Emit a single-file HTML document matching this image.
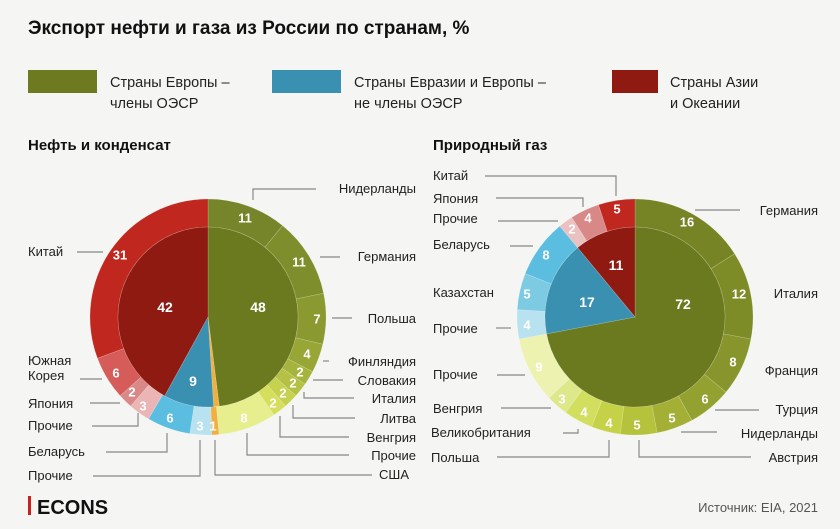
<!DOCTYPE html>
<html><head><meta charset="utf-8"><style>
html,body{margin:0;padding:0;background:#f5f5f3;}
svg{display:block;font-family:"Liberation Sans","DejaVu Sans",sans-serif;}
.l{font-size:13px;fill:#222;}
.v{font-size:13px;fill:#fff;font-weight:bold;text-anchor:middle;dominant-baseline:central;}
.b{font-size:14px;}
.ln{stroke:#888;stroke-width:1.2;fill:none;}
</style></head><body>
<svg id="s" width="840" height="529" viewBox="0 0 840 529">
<rect width="840" height="529" fill="#f5f5f3"/>
<text x="28" y="34" font-size="19" font-weight="bold" fill="#111">Экспорт нефти и газа из России по странам, %</text>
<rect x="28" y="70" width="69" height="23" fill="#6e7a1f"/>
<rect x="272" y="70" width="69" height="23" fill="#3a90b0"/>
<rect x="612" y="70" width="46" height="23" fill="#8e1a12"/>
<g font-size="14.5" fill="#222">
<text x="110" y="87">Страны Европы –</text><text x="110" y="108">члены ОЭСР</text>
<text x="354" y="87">Страны Евразии и Европы –</text><text x="354" y="108">не члены ОЭСР</text>
<text x="670" y="87">Страны Азии</text><text x="670" y="108">и Океании</text>
</g>
<text x="28" y="150" font-size="15" font-weight="bold" fill="#111">Нефть и конденсат</text>
<text x="433" y="150" font-size="15" font-weight="bold" fill="#111">Природный газ</text>
<g id="pies"></g>
<g class="ln">
<polyline points="253,200 253,189 316,189"/>
<line x1="320" y1="257" x2="340" y2="257"/>
<line x1="332" y1="318" x2="352" y2="318"/>
<line x1="323" y1="361" x2="329" y2="361"/>
<line x1="313" y1="380" x2="343" y2="380"/>
<polyline points="304,392 304,398 354,398"/>
<polyline points="293,405 293,418 355,418"/>
<polyline points="280,416 280,437 349,437"/>
<polyline points="247,433 247,455 349,455"/>
<polyline points="215,440 215,475 372,475"/>
<line x1="77" y1="252" x2="103" y2="252"/>
<line x1="80" y1="379" x2="102" y2="379"/>
<line x1="90" y1="403" x2="120" y2="403"/>
<polyline points="92,426 138,426 138,413"/>
<polyline points="106,452 167,452 167,433"/>
<polyline points="93,476 200,476 200,440"/>
<polyline points="485,176 616,176 616,196"/>
<polyline points="496,198 583,198 583,207"/>
<line x1="498" y1="221" x2="558" y2="221"/>
<line x1="510" y1="246" x2="533" y2="246"/>
<line x1="496" y1="328" x2="511" y2="328"/>
<line x1="497" y1="375" x2="525" y2="375"/>
<line x1="501" y1="408" x2="551" y2="408"/>
<polyline points="563,433 578,433 578,429"/>
<polyline points="497,457 609,457 609,440"/>
<line x1="695" y1="210" x2="740" y2="210"/>
<line x1="715" y1="410" x2="759" y2="410"/>
<line x1="681" y1="432" x2="717" y2="432"/>
<polyline points="639,440 639,457 751,457"/>
</g>
<g class="l" text-anchor="end">
<text x="416" y="193">Нидерланды</text><text x="416" y="261">Германия</text>
<text x="416" y="323">Польша</text><text x="416" y="366">Финляндия</text>
<text x="416" y="385">Словакия</text><text x="416" y="403">Италия</text>
<text x="416" y="423">Литва</text><text x="416" y="442">Венгрия</text>
<text x="416" y="460">Прочие</text><text x="409" y="479">США</text>
<text x="818" y="215">Германия</text><text x="818" y="298">Италия</text>
<text x="818" y="375">Франция</text><text x="818" y="414">Турция</text>
<text x="818" y="438">Нидерланды</text><text x="818" y="462">Австрия</text>
</g>
<g class="l">
<text x="28" y="256">Китай</text><text x="28" y="365">Южная</text><text x="28" y="380">Корея</text>
<text x="28" y="408">Япония</text><text x="28" y="430">Прочие</text>
<text x="28" y="456">Беларусь</text><text x="28" y="480">Прочие</text>
<text x="433" y="180">Китай</text><text x="433" y="203">Япония</text>
<text x="433" y="223">Прочие</text><text x="433" y="249">Беларусь</text>
<text x="433" y="297">Казахстан</text><text x="433" y="333">Прочие</text>
<text x="433" y="379">Прочие</text><text x="433" y="413">Венгрия</text>
<text x="431" y="437">Великобритания</text><text x="431" y="462">Польша</text>
</g>
<g class="v">
<text x="245" y="218">11</text><text x="299" y="262">11</text><text x="317" y="319">7</text>
<text x="307" y="354">4</text><text x="300" y="372">2</text><text x="293" y="383">2</text>
<text x="283" y="393">2</text><text x="273" y="403">2</text><text x="244" y="418">8</text>
<text x="213" y="426">1</text><text x="200" y="426">3</text><text x="170" y="418">6</text>
<text x="143" y="406">3</text><text x="132" y="392">2</text><text x="116" y="373">6</text>
<text x="120" y="255">31</text><text class="b" x="165" y="307">42</text><text class="b" x="258" y="307">48</text>
<text class="b" x="193" y="381">9</text>
<text x="617" y="209">5</text><text x="588" y="218">4</text><text x="572" y="229">2</text>
<text x="546" y="255">8</text><text x="527" y="294">5</text><text x="527" y="325">4</text>
<text x="539" y="367">9</text><text x="562" y="399">3</text><text x="584" y="412">4</text>
<text x="609" y="423">4</text><text x="637" y="425">5</text><text x="672" y="418">5</text>
<text x="705" y="399">6</text><text x="733" y="362">8</text><text x="739" y="294">12</text>
<text x="687" y="222">16</text><text class="b" x="616" y="265">11</text>
<text class="b" x="587" y="302">17</text><text class="b" x="683" y="304">72</text>
</g>
<rect x="28" y="496" width="3" height="19" fill="#c8201a"/>
<text x="37" y="514" font-size="20" font-weight="bold" fill="#111">ECONS</text>
<text x="818" y="512" font-size="13" fill="#555" text-anchor="end">Источник: EIA, 2021</text>
</svg>
<script>
(function(){
var g=document.getElementById('pies'),NS='http://www.w3.org/2000/svg';
function arc(cx,cy,r0,r1,a0,a1,c){
 var p=function(r,a){a=(a-90)*Math.PI/180;return (cx+r*Math.cos(a)).toFixed(2)+','+(cy+r*Math.sin(a)).toFixed(2);};
 var lg=(a1-a0)>180?1:0,d;
 if(r0==0) d='M'+cx+','+cy+' L'+p(r1,a0)+' A'+r1+','+r1+' 0 '+lg+' 1 '+p(r1,a1)+' Z';
 else d='M'+p(r0,a0)+' L'+p(r1,a0)+' A'+r1+','+r1+' 0 '+lg+' 1 '+p(r1,a1)+' L'+p(r0,a1)+' A'+r0+','+r0+' 0 '+lg+' 0 '+p(r0,a0)+' Z';
 var e=document.createElementNS(NS,'path');e.setAttribute('d',d);e.setAttribute('fill',c);
 e.setAttribute('stroke','rgba(255,255,255,0.25)');e.setAttribute('stroke-width','0.6');g.appendChild(e);}
function ring(cx,cy,r0,r1,segs){var t=0;segs.forEach(function(s){t+=s[0];});var a=0;
 segs.forEach(function(s){var b=a+s[0]/t*360;arc(cx,cy,r0,r1,a,b,s[1]);a=b;});}
ring(208,317,90,118,[[11,'#76852a'],[11,'#7f8e2c'],[7,'#8a9930'],[4,'#98a636'],[2,'#a6b33c'],[2,'#b5c144'],[2,'#c6d14e'],[2,'#d5df5c'],[8,'#e6ee8e'],[1,'#f0b040'],[3,'#b8e2ef'],[6,'#5bbde0'],[3,'#ebb5b5'],[2,'#d98888'],[6,'#d65c5a'],[31,'#c0281f']]);
ring(208,317,0,90,[[48,'#6b7a1e'],[1,'#f0b040'],[9,'#3a90b0'],[42,'#8f1a12']]);
ring(635,317,90,118,[[16,'#768426'],[12,'#7e8c28'],[8,'#87952c'],[6,'#93a130'],[5,'#a3b035'],[5,'#b5c23c'],[4,'#c5d248'],[4,'#d2df5e'],[3,'#dde88a'],[9,'#eef2b0'],[4,'#b8e2ef'],[5,'#7ccbe2'],[8,'#5bbde0'],[2,'#ebc0c0'],[4,'#d98888'],[5,'#c0281f']]);
ring(635,317,0,90,[[72,'#6b7a1e'],[17,'#3a90b0'],[11,'#8f1a12']]);
})();
</script>
</body></html>
